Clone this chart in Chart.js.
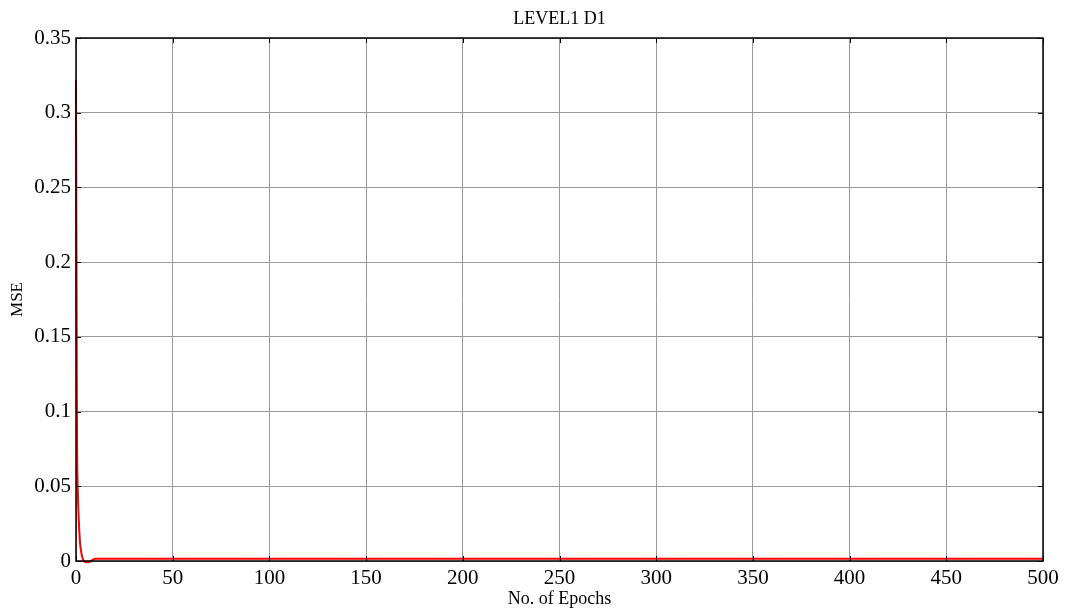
<!DOCTYPE html>
<html lang="en">
<head>
    <meta charset="UTF-8">
    <title>LEVEL1 D1</title>
    <script src="https://cdn.jsdelivr.net/npm/chart.js"></script>
    <style>
        body {
            margin: 0;
            background: #fff;
        }
        .wrap {
            width: 1065px;
            height: 612px;
        }
    </style>
</head>
<body>
    <div class="wrap">
        <canvas id="mseChart" width="1065" height="612"></canvas>
    </div>

    <script>
        // training curve (epoch, mse)
        const epochs = [0, 0.5, 1, 2, 3, 4, 5, 6, 7, 8, 9, 10, 500];
        const mse = [0.322, 0.09, 0.045, 0.014, 0.004, 0.0, -0.0007, -0.0008, -0.0005, 0.0002, 0.001, 0.0015, 0.0015];

        const xTicks = [0, 50, 100, 150, 200, 250, 300, 350, 400, 450, 500];
        const yTicks = [0, 0.05, 0.1, 0.15, 0.2, 0.25, 0.3, 0.35];

        const serif = 'Liberation Serif, "Times New Roman", serif';

        // box round the plot plus the small inward tick marks (matlab style)
        const boxPlugin = {
            id: 'box',
            afterDraw(chart) {
                const c = chart.ctx;
                const a = chart.chartArea;
                const xs = chart.scales.x;
                const ys = chart.scales.y;
                c.save();
                c.strokeStyle = '#000';
                c.lineWidth = 1;
                xTicks.forEach(v => {
                    const px = Math.round(xs.getPixelForValue(v)) + 0.5;
                    c.beginPath();
                    c.moveTo(px, a.bottom); c.lineTo(px, a.bottom - 5);
                    c.moveTo(px, a.top); c.lineTo(px, a.top + 5);
                    c.stroke();
                });
                yTicks.forEach(v => {
                    const py = Math.round(ys.getPixelForValue(v)) + 0.5;
                    c.beginPath();
                    c.moveTo(a.left, py); c.lineTo(a.left + 5, py);
                    c.moveTo(a.right, py); c.lineTo(a.right - 5, py);
                    c.stroke();
                });
                c.lineWidth = 1.5;
                c.strokeRect(a.left, a.top, a.right - a.left, a.bottom - a.top);
                c.restore();
            }
        };

        const ctx = document.getElementById('mseChart').getContext('2d');
        new Chart(ctx, {
            type: 'scatter',
            data: {
                datasets: [{
                    label: 'MSE',
                    data: epochs.map((e, i) => ({ x: e, y: mse[i] })),
                    showLine: true,
                    borderColor: '#ff0000',
                    borderWidth: 2,
                    pointRadius: 0,
                    cubicInterpolationMode: 'monotone',
                    clip: false
                }]
            },
            options: {
                responsive: false,
                animation: false,
                layout: { padding: { left: 0, right: 22, top: 0, bottom: 0 } },
                plugins: {
                    legend: { display: false },
                    tooltip: { enabled: false },
                    title: {
                        display: true,
                        fullSize: false,
                        text: 'LEVEL1 D1',
                        color: '#000',
                        font: { family: serif, size: 18, weight: 'normal' },
                        padding: { top: 8, bottom: 8.4 }
                    }
                },
                scales: {
                    x: {
                        type: 'linear',
                        min: 0,
                        max: 500,
                        afterBuildTicks: s => { s.ticks = xTicks.map(v => ({ value: v })); },
                        afterFit: s => { s.height = 51; },
                        grid: { color: '#9a9a9a', lineWidth: 1, drawTicks: false },
                        border: { display: false },
                        ticks: {
                            color: '#000',
                            padding: 5,
                            font: { family: serif, size: 21 },
                            maxRotation: 0
                        },
                        title: {
                            display: true,
                            text: 'No. of Epochs',
                            color: '#000',
                            font: { family: serif, size: 18 },
                            padding: { top: 0, bottom: 2 }
                        }
                    },
                    y: {
                        type: 'linear',
                        min: 0,
                        max: 0.35,
                        afterBuildTicks: s => { s.ticks = yTicks.map(v => ({ value: v })); },
                        afterFit: s => { s.width = 76; },
                        grid: { color: '#9a9a9a', lineWidth: 1, drawTicks: false },
                        border: { display: false },
                        ticks: {
                            color: '#000',
                            padding: 5,
                            font: { family: serif, size: 21 },
                            callback: v => String(v)
                        },
                        title: {
                            display: true,
                            text: 'MSE',
                            color: '#000',
                            font: { family: serif, size: 17 },
                            padding: { top: 7, bottom: 0 }
                        }
                    }
                }
            },
            plugins: [boxPlugin]
        });
    </script>
</body>
</html>
